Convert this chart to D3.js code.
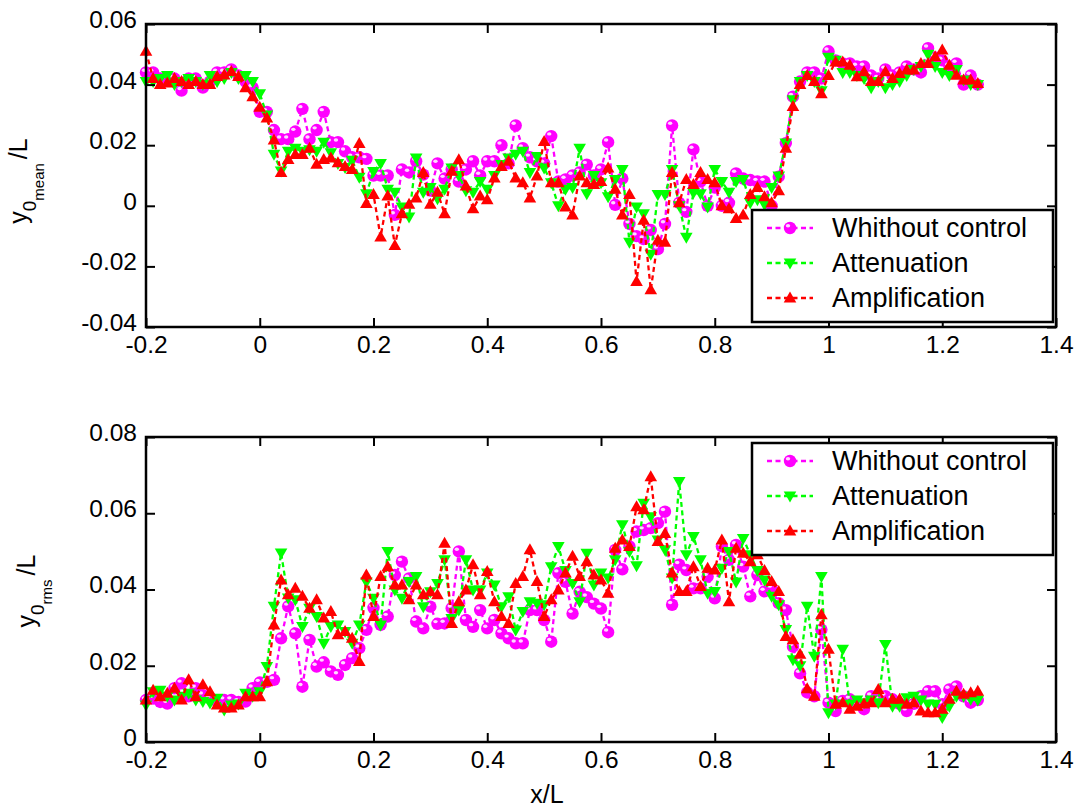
<!DOCTYPE html>
<html>
<head>
<meta charset="utf-8">
<script src="https://cdn.jsdelivr.net/npm/d3@7"></script>
<style>
  html, body { margin: 0; padding: 0; background: #fff; }
  svg { display: block; font-family: "Liberation Sans", Arial, sans-serif; }
</style>
</head>
<body>
<div id="chart"></div>
<script>
// sample grid along x/L
var xStart = -0.2;
var xStep = 0.0125;

var xTickVals = [-0.2, 0, 0.2, 0.4, 0.6, 0.8, 1, 1.2, 1.4];
var xTickLabels = ["-0.2", "0", "0.2", "0.4", "0.6", "0.8", "1", "1.2", "1.4"];
var meanTickVals = [-0.04, -0.02, 0, 0.02, 0.04, 0.06];
var meanTickLabels = ["-0.04", "-0.02", "0", "0.02", "0.04", "0.06"];
var rmsTickVals = [0, 0.02, 0.04, 0.06, 0.08];
var rmsTickLabels = ["0", "0.02", "0.04", "0.06", "0.08"];

var seriesNames = ["Whithout control", "Attenuation", "Amplification"];

// y0_mean / L
var meanNone = [0.044,0.044,0.042,0.042,0.042,0.038,0.042,0.042,0.039,0.041,
  0.044,0.044,0.045,0.043,0.041,0.039,0.031,0.031,0.025,0.022,
  0.022,0.0245,0.032,0.022,0.025,0.031,0.021,0.021,0.018,0.016,
  0.016,0.0155,0.010,0.010,0.010,-0.003,0.012,0.011,0.0147,0.0103,
  0.005,0.014,0.009,0.012,0.008,0.012,0.0147,0.010,0.0147,0.0147,
  0.020,0.014,0.0265,0.019,0.016,0.0147,0.014,0.023,0.008,0.0087,
  0.010,0.011,0.0136,0.010,0.012,0.021,0.0003,0.009,-0.006,-0.010,
  -0.011,-0.008,-0.0143,-0.006,0.0265,0.001,-0.002,0.0186,0.008,0.000,
  0.006,0.000,0.001,0.0107,0.009,0.0085,0.008,0.008,0.000,0.0096,
  0.0207,0.036,0.041,0.044,0.044,0.042,0.051,0.048,0.047,0.047,
  0.046,0.046,0.043,0.042,0.045,0.043,0.044,0.046,0.045,0.044,
  0.052,0.049,0.048,0.046,0.047,0.040,0.043,0.040];
var meanAtt = [0.041,0.041,0.042,0.043,0.040,0.041,0.042,0.041,0.040,0.043,
  0.041,0.042,0.044,0.042,0.043,0.041,0.037,0.030,0.017,0.0115,
  0.018,0.019,0.018,0.0185,0.018,0.021,0.0175,0.014,0.0126,0.015,
  0.0094,0.004,0.0113,0.014,0.0055,0.0045,-0.0004,-0.0037,0.0158,0.0045,
  0.006,0.0023,0.0055,0.0125,0.010,0.005,0.0045,0.008,0.0055,0.010,
  0.0136,0.0158,0.017,0.018,0.011,0.0163,0.0125,0.0076,0.000,0.0055,
  0.006,0.019,0.004,0.010,0.0076,0.003,0.0087,0.012,-0.012,-0.0004,
  -0.0026,-0.016,0.0037,0.0037,0.012,0.000,-0.0104,0.0043,0.004,-0.0004,
  0.012,0.008,0.0045,0.008,0.0087,0.001,0.002,0.0004,0.006,0.0098,
  0.0207,0.035,0.041,0.043,0.041,0.038,0.049,0.048,0.044,0.044,
  0.043,0.042,0.039,0.041,0.039,0.040,0.041,0.043,0.045,0.046,
  0.050,0.046,0.044,0.043,0.045,0.0415,0.040,0.040];
var meanAmp = [0.051,0.042,0.040,0.0405,0.042,0.041,0.040,0.041,0.040,0.040,
  0.0427,0.0432,0.0443,0.0427,0.039,0.036,0.0325,0.029,0.0217,0.011,
  0.0153,0.0169,0.0169,0.019,0.0137,0.0153,0.0158,0.0142,0.013,0.012,
  0.0206,0.0008,0.0037,-0.0103,0.0032,-0.0131,-0.0026,0.0005,0.0026,0.011,
  0.0005,0.0045,-0.0026,0.0114,0.0152,0.0065,-0.001,0.0032,0.002,0.0092,
  0.013,0.0147,0.0092,0.0076,0.0026,0.0098,0.0212,0.0076,0.0076,-0.0004,
  -0.003,0.0098,0.0076,0.007,0.008,0.0125,0.0055,-0.003,0.0037,-0.025,
  -0.0048,-0.0277,-0.0114,-0.012,0.011,0.001,0.0087,0.007,0.011,0.0087,
  0.0076,0.0,-0.001,-0.0042,-0.003,0.0037,0.006,0.003,0.001,0.005,
  0.019,0.0328,0.040,0.043,0.041,0.037,0.043,0.0475,0.0475,0.0464,
  0.0426,0.0442,0.041,0.041,0.0442,0.042,0.0437,0.0448,0.0448,0.047,
  0.047,0.0492,0.0514,0.0464,0.0431,0.0415,0.0415,0.0404];

// y0_rms / L
var rmsNone = [0.011,0.0114,0.0105,0.0101,0.0141,0.0154,0.012,0.0141,0.0123,0.0115,
  0.0106,0.011,0.011,0.0105,0.0106,0.0141,0.0156,0.0158,0.0163,0.0272,
  0.0356,0.0285,0.0145,0.0268,0.0198,0.0209,0.0185,0.0176,0.0202,0.022,
  0.0246,0.0294,0.0352,0.0307,0.0329,0.0438,0.0473,0.0429,0.0316,0.0298,
  0.0355,0.031,0.0311,0.0351,0.0500,0.032,0.0302,0.0346,0.0298,0.032,
  0.0285,0.0272,0.0259,0.0259,0.0346,0.0346,0.032,0.0263,0.0443,0.042,
  0.0337,0.0394,0.038,0.0363,0.035,0.0288,0.0504,0.0453,0.0513,0.0552,
  0.0556,0.0561,0.0574,0.0604,0.036,0.0465,0.0451,0.0403,0.0403,0.0434,
  0.0377,0.0513,0.0478,0.0517,0.046,0.0382,0.0438,0.0395,0.0403,0.0364,
  0.0346,0.025,0.018,0.013,0.012,0.0295,0.0103,0.0081,0.0108,0.0112,
  0.010,0.0086,0.012,0.011,0.012,0.0112,0.010,0.0081,0.010,0.012,
  0.0133,0.0133,0.0099,0.0138,0.0146,0.012,0.0103,0.011];
var rmsAtt = [0.0097,0.0132,0.0136,0.012,0.011,0.012,0.0128,0.011,0.0106,0.0102,
  0.0115,0.0084,0.0097,0.010,0.0128,0.012,0.0132,0.0198,0.0356,0.0496,
  0.0378,0.0373,0.0303,0.0351,0.0329,0.0259,0.0303,0.0307,0.029,0.0259,
  0.0307,0.042,0.0377,0.0307,0.050,0.0399,0.0377,0.0421,0.0434,0.0355,
  0.0394,0.0416,0.0478,0.0324,0.0346,0.0478,0.0399,0.0399,0.0443,0.0412,
  0.0355,0.0381,0.0294,0.0342,0.0368,0.0364,0.036,0.046,0.0513,0.045,
  0.0416,0.0368,0.0495,0.0412,0.0443,0.043,0.0478,0.057,0.05,0.0462,
  0.0626,0.0591,0.053,0.0504,0.043,0.0683,0.0491,0.0539,0.0478,0.039,
  0.0395,0.0456,0.05,0.042,0.0534,0.0491,0.045,0.0425,0.0382,0.036,
  0.0295,0.0216,0.020,0.0356,0.0225,0.0434,0.0077,0.010,0.0243,0.0099,
  0.011,0.0103,0.011,0.0103,0.0256,0.0094,0.0094,0.0116,0.012,0.011,
  0.010,0.0099,0.0064,0.0094,0.012,0.012,0.0112,0.011];
var rmsAmp = [0.011,0.0136,0.0119,0.0128,0.0141,0.011,0.0163,0.0119,0.015,0.0132,
  0.0097,0.0089,0.0089,0.0097,0.0119,0.0119,0.0119,0.0158,0.0307,0.0425,
  0.0386,0.0403,0.0382,0.0351,0.0373,0.0325,0.0342,0.0281,0.029,0.0272,
  0.0211,0.0438,0.0329,0.0434,0.046,0.0412,0.0412,0.0373,0.0412,0.0386,
  0.0394,0.0386,0.0521,0.0311,0.0368,0.0399,0.0465,0.0386,0.0447,0.0368,
  0.0329,0.0311,0.0416,0.0434,0.0504,0.0421,0.0329,0.0373,0.0399,0.0443,
  0.0487,0.0434,0.0473,0.0438,0.0425,0.039,0.0508,0.053,0.0513,0.0617,
  0.0609,0.0696,0.0526,0.0547,0.0443,0.0395,0.0395,0.046,0.0408,0.0456,
  0.0451,0.053,0.0368,0.0508,0.0495,0.0473,0.0491,0.045,0.0421,0.0395,
  0.0277,0.0268,0.023,0.014,0.012,0.0334,0.0243,0.0099,0.0103,0.0086,
  0.0094,0.010,0.0103,0.0138,0.0103,0.0112,0.0112,0.0099,0.0103,0.0081,
  0.0077,0.0077,0.0086,0.0112,0.0133,0.0125,0.0129,0.0133];

var width = 1081, height = 808;
var left = 146, right = 1056;
var colors = ["#ff00ff", "#00ff00", "#ff0000"];
var markers = ["circle", "down", "up"];

var xs = d3.range(meanNone.length).map(function (i) { return xStart + i * xStep; });

var svg = d3.select("#chart").append("svg")
  .attr("width", width).attr("height", height)
  .attr("viewBox", [0, 0, width, height]);
svg.append("rect").attr("width", width).attr("height", height).attr("fill", "#fff");

var x = d3.scaleLinear().domain([-0.2, 1.4]).range([left, right]);

function drawMarker(g, kind, color) {
  if (kind === "circle") {
    g.append("circle").attr("r", 6.2).attr("fill", color);
    g.append("ellipse").attr("cx", -2).attr("cy", -2.2).attr("rx", 2.2).attr("ry", 1.7)
      .attr("fill", "#fff").attr("opacity", 0.85);
  } else if (kind === "up") {
    g.append("path").attr("d", "M0,-6.5L6.3,4.5L-6.3,4.5Z").attr("fill", color);
  } else {
    g.append("path").attr("d", "M0,6.5L6.3,-4.5L-6.3,-4.5Z").attr("fill", color);
  }
}

function drawPanel(cfg) {
  var y = d3.scaleLinear().domain(cfg.domain).range([cfg.bottom, cfg.top]);
  var g = svg.append("g");

  var line = d3.line()
    .x(function (d) { return x(d[0]); })
    .y(function (d) { return y(d[1]); });

  cfg.series.forEach(function (vals, k) {
    var pts = vals.map(function (v, i) { return [xs[i], v]; });
    g.append("path")
      .datum(pts)
      .attr("d", line)
      .attr("fill", "none")
      .attr("stroke", colors[k])
      .attr("stroke-width", 2.3)
      .attr("stroke-dasharray", "5,3.5");
    g.selectAll(null)
      .data(pts)
      .enter()
      .append("g")
      .attr("transform", function (d) { return "translate(" + x(d[0]) + "," + y(d[1]) + ")"; })
      .each(function () { drawMarker(d3.select(this), markers[k], colors[k]); });
  });

  // axes, ticks pointing inwards like matlab
  var ax = svg.append("g").attr("class", "axes");
  ax.append("g")
    .attr("transform", "translate(0," + cfg.bottom + ")")
    .call(d3.axisBottom(x).tickValues(xTickVals)
      .tickFormat(function (d, i) { return xTickLabels[i]; })
      .tickSizeInner(-9).tickSizeOuter(0).tickPadding(9));
  ax.append("g")
    .attr("transform", "translate(0," + cfg.top + ")")
    .call(d3.axisTop(x).tickValues(xTickVals).tickFormat("")
      .tickSizeInner(-9).tickSizeOuter(0));
  var yAxisG = ax.append("g")
    .attr("transform", "translate(" + left + ",0)")
    .call(d3.axisLeft(y).tickValues(cfg.tickVals)
      .tickFormat(function (d, i) { return cfg.tickLabels[i]; })
      .tickSizeInner(-9).tickSizeOuter(0).tickPadding(9));
  // matlab sets the y labels a little above their ticks
  yAxisG.selectAll(".tick text").attr("dy", "0.14em");
  ax.append("g")
    .attr("transform", "translate(" + right + ",0)")
    .call(d3.axisRight(y).tickValues(cfg.tickVals).tickFormat("")
      .tickSizeInner(-9).tickSizeOuter(0));
  ax.selectAll(".domain").remove();
  ax.selectAll(".tick line").attr("stroke", "#000").attr("stroke-width", 2);
  ax.selectAll(".tick text")
    .attr("fill", "#000")
    .style("font-size", "24.5px")
    .style("font-family", "Liberation Sans, Arial, sans-serif");
  ax.append("rect")
    .attr("x", left).attr("y", cfg.top)
    .attr("width", right - left).attr("height", cfg.bottom - cfg.top)
    .attr("fill", "none").attr("stroke", "#000").attr("stroke-width", 2.5);

  // y label: y_{0_{sub}}/L, rotated
  var lab = svg.append("text")
    .attr("transform", "translate(" + cfg.labelX + "," + cfg.labelY + ") rotate(-90)")
    .attr("text-anchor", "middle")
    .style("font-size", "25px");
  lab.append("tspan").text("y");
  lab.append("tspan").attr("dy", 9).style("font-size", "19px").text("0");
  lab.append("tspan").attr("dy", 8).style("font-size", "15px").text(cfg.sub);
  lab.append("tspan").attr("dy", -17).attr("dx", 4).text("/L");

  // legend
  var lg = svg.append("g").attr("transform", "translate(" + cfg.legend[0] + "," + cfg.legend[1] + ")");
  lg.append("rect")
    .attr("width", 301).attr("height", 112)
    .attr("fill", "#fff").attr("stroke", "#000").attr("stroke-width", 2.5);
  seriesNames.forEach(function (name, k) {
    var row = lg.append("g").attr("transform", "translate(0," + (18 + k * 35) + ")");
    row.append("line")
      .attr("x1", 15).attr("x2", 61)
      .attr("stroke", colors[k]).attr("stroke-width", 2.3)
      .attr("stroke-dasharray", "5,3.5");
    drawMarker(row.append("g").attr("transform", "translate(38,0)"), markers[k], colors[k]);
    row.append("text")
      .attr("x", 80).attr("dy", "0.35em")
      .style("font-size", "27px")
      .text(name);
  });
}

drawPanel({
  top: 24, bottom: 327, domain: [-0.04, 0.06],
  tickVals: meanTickVals, tickLabels: meanTickLabels,
  series: [meanNone, meanAtt, meanAmp],
  sub: "mean", labelX: 27, labelY: 181,
  legend: [752, 210]
});

drawPanel({
  top: 437, bottom: 742, domain: [0, 0.08],
  tickVals: rmsTickVals, tickLabels: rmsTickLabels,
  series: [rmsNone, rmsAtt, rmsAmp],
  sub: "rms", labelX: 35, labelY: 591,
  legend: [752, 443]
});

svg.append("text")
  .attr("x", 547).attr("y", 803)
  .attr("text-anchor", "middle")
  .style("font-size", "25px")
  .text("x/L");
</script>
</body>
</html>
